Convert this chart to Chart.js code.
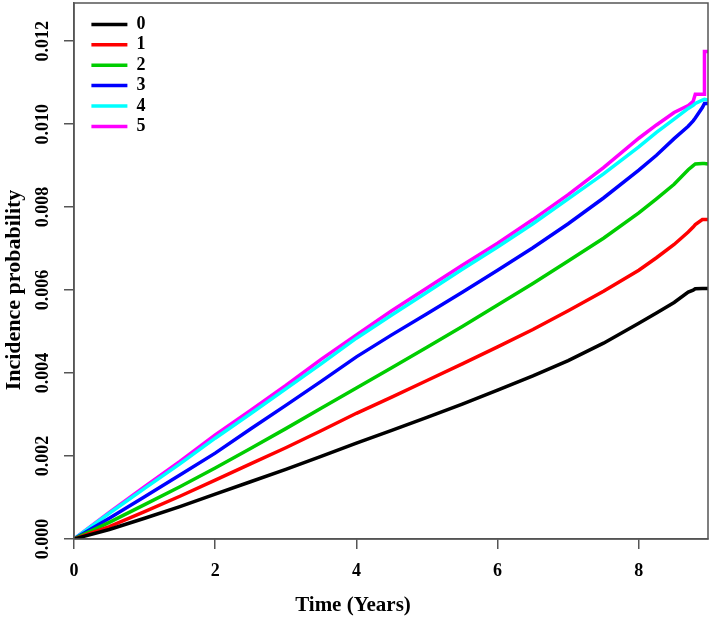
<!DOCTYPE html>
<html>
<head>
<meta charset="utf-8">
<script src="https://cdn.jsdelivr.net/npm/chart.js@4.4.1/dist/chart.umd.min.js"></script>
<style>
  body { margin: 0; background: #fff; }
  canvas { display: block; }
</style>
</head>
<body>
<canvas id="myChart" width="712" height="622"></canvas>
<script>
// time points (years), the 8.93 repeat is the last step of group 5
var years = [0, 0.5, 1, 1.5, 2, 2.5, 3, 3.5, 4, 4.5, 5, 5.5, 6, 6.5, 7, 7.5, 8, 8.25, 8.5, 8.7, 8.77, 8.8, 8.9, 8.93, 8.93, 8.98];

// incidence probability per group
var group0 = [0, 0.00023, 0.00050, 0.00078, 0.00108, 0.00138, 0.00168, 0.00199, 0.00231, 0.00262, 0.00293, 0.00325, 0.00359, 0.00393, 0.00430, 0.00472, 0.00520, 0.00545, 0.00570, 0.00595, 0.00600, 0.00603, 0.00604, 0.00604, 0.00604, 0.00604];
var group1 = [0, 0.00030, 0.00066, 0.00103, 0.00142, 0.00181, 0.00220, 0.00261, 0.00303, 0.00342, 0.00382, 0.00422, 0.00463, 0.00505, 0.00550, 0.00597, 0.00648, 0.00678, 0.00710, 0.00740, 0.00752, 0.00758, 0.00770, 0.00770, 0.00770, 0.00770];
var group2 = [0, 0.00040, 0.00083, 0.00126, 0.00171, 0.00218, 0.00266, 0.00315, 0.00364, 0.00413, 0.00462, 0.00512, 0.00564, 0.00616, 0.00670, 0.00725, 0.00786, 0.00820, 0.00855, 0.00890, 0.00900, 0.00904, 0.00905, 0.00905, 0.00905, 0.00904];
var group3 = [0, 0.00050, 0.00102, 0.00154, 0.00207, 0.00265, 0.00322, 0.00380, 0.00439, 0.00492, 0.00543, 0.00595, 0.00648, 0.00702, 0.00760, 0.00822, 0.00889, 0.00925, 0.00965, 0.00995, 0.01008, 0.01015, 0.01040, 0.01050, 0.01050, 0.01050];
var group4 = [0, 0.00062, 0.00122, 0.00181, 0.00243, 0.00302, 0.00362, 0.00422, 0.00484, 0.00540, 0.00595, 0.00650, 0.00704, 0.00760, 0.00820, 0.00880, 0.00945, 0.00980, 0.01012, 0.01038, 0.01045, 0.01050, 0.01058, 0.01060, 0.01060, 0.01058];
var group5 = [0, 0.00064, 0.00126, 0.00187, 0.00251, 0.00310, 0.00370, 0.00433, 0.00492, 0.00550, 0.00605, 0.00660, 0.00713, 0.00770, 0.00830, 0.00895, 0.00966, 0.00998, 0.01028, 0.01045, 0.01055, 0.01072, 0.01072, 0.01072, 0.01175, 0.01175];

var groupNames = ["0", "1", "2", "3", "4", "5"];
var groupColors = ["#000000", "#FF0000", "#00CD00", "#0000FF", "#00FFFF", "#FF00FF"];

var xTicks = [0, 2, 4, 6, 8];
var yTicks = [0, 0.002, 0.004, 0.006, 0.008, 0.010, 0.012];

var xTitle = "Time (Years)";
var yTitle = "Incidence probability";

var serif = "'Liberation Serif', 'Times New Roman', serif";

function toPoints(values) {
  var pts = [];
  for (var i = 0; i < years.length; i++) {
    pts.push({ x: years[i], y: values[i] });
  }
  return pts;
}

var allGroups = [group0, group1, group2, group3, group4, group5];
var datasets = [];
for (var i = 0; i < allGroups.length; i++) {
  datasets.push({
    label: groupNames[i],
    data: toPoints(allGroups[i]),
    borderColor: groupColors[i],
    backgroundColor: groupColors[i],
    borderWidth: 3.5,
    pointRadius: 0,
    tension: 0,
    fill: false
  });
}

// box round the plot region (like R's box()) plus the two axis titles
var plotBox = {
  id: "plotBox",
  afterDraw: function(chart) {
    var a = chart.chartArea;
    var c = chart.ctx;
    c.save();
    c.strokeStyle = "#555";
    c.lineWidth = 1.5;
    c.strokeRect(a.left, a.top, a.right - a.left, a.bottom - a.top);

    c.fillStyle = "#000";
    c.textAlign = "center";
    c.textBaseline = "middle";
    c.font = "bold 21px " + serif;
    c.fillText(xTitle, a.left + 279, a.bottom + 67);

    c.font = "bold 22px " + serif;
    c.translate(a.left - 60, a.top + 287);
    c.rotate(-Math.PI / 2);
    c.fillText(yTitle, 0, 0);
    c.restore();
  }
};

// nudge the legend inside the plot area
var legendShift = {
  id: "legendShift",
  afterLayout: function(chart) {
    chart.legend.left += 15;
    chart.legend.top += 13;
  }
};

var ctx = document.getElementById("myChart");
var myChart = new Chart(ctx, {
  type: "line",
  data: { datasets: datasets },
  plugins: [plotBox, legendShift],
  options: {
    responsive: false,
    animation: false,
    layout: { padding: { top: 3, right: 4, left: 0, bottom: 0 } },
    plugins: {
      tooltip: { enabled: false },
      legend: {
        position: "chartArea",
        align: "start",
        labels: {
          usePointStyle: true,
          pointStyle: "line",
          pointStyleWidth: 36,
          padding: 2.4,
          color: "#000",
          font: { family: serif, size: 18, weight: "bold" }
        }
      }
    },
    scales: {
      x: {
        type: "linear",
        min: 0,
        max: 8.98,
        afterBuildTicks: function(scale) {
          scale.ticks = xTicks.map(function(v) { return { value: v }; });
        },
        afterFit: function(scale) {
          scale.height = 83;
          scale.paddingLeft = 0;
          scale.paddingRight = 0;
        },
        grid: { display: true, drawOnChartArea: false, drawTicks: true, tickLength: 10, color: "#555", lineWidth: 1.5 },
        border: { display: true, color: "#555", width: 1.5 },
        ticks: {
          padding: 12,
          maxRotation: 0,
          color: "#000",
          font: { family: serif, size: 18, weight: "bold" },
          callback: function(v) { return String(v); }
        }
      },
      y: {
        type: "linear",
        min: 0,
        max: 0.01292,
        afterBuildTicks: function(scale) {
          scale.ticks = yTicks.map(function(v) { return { value: v }; });
        },
        afterFit: function(scale) {
          scale.width = 74;
          scale.paddingTop = 0;
          scale.paddingBottom = 0;
        },
        grid: { display: true, drawOnChartArea: false, drawTicks: true, tickLength: 10, color: "#555", lineWidth: 1.5 },
        border: { display: true, color: "#555", width: 1.5 },
        ticks: {
          padding: 0,
          minRotation: 90,
          maxRotation: 90,
          crossAlign: "center",
          color: "#000",
          font: { family: serif, size: 18, weight: "bold" },
          callback: function(v) { return v.toFixed(3); }
        }
      }
    }
  }
});
</script>
</body>
</html>
